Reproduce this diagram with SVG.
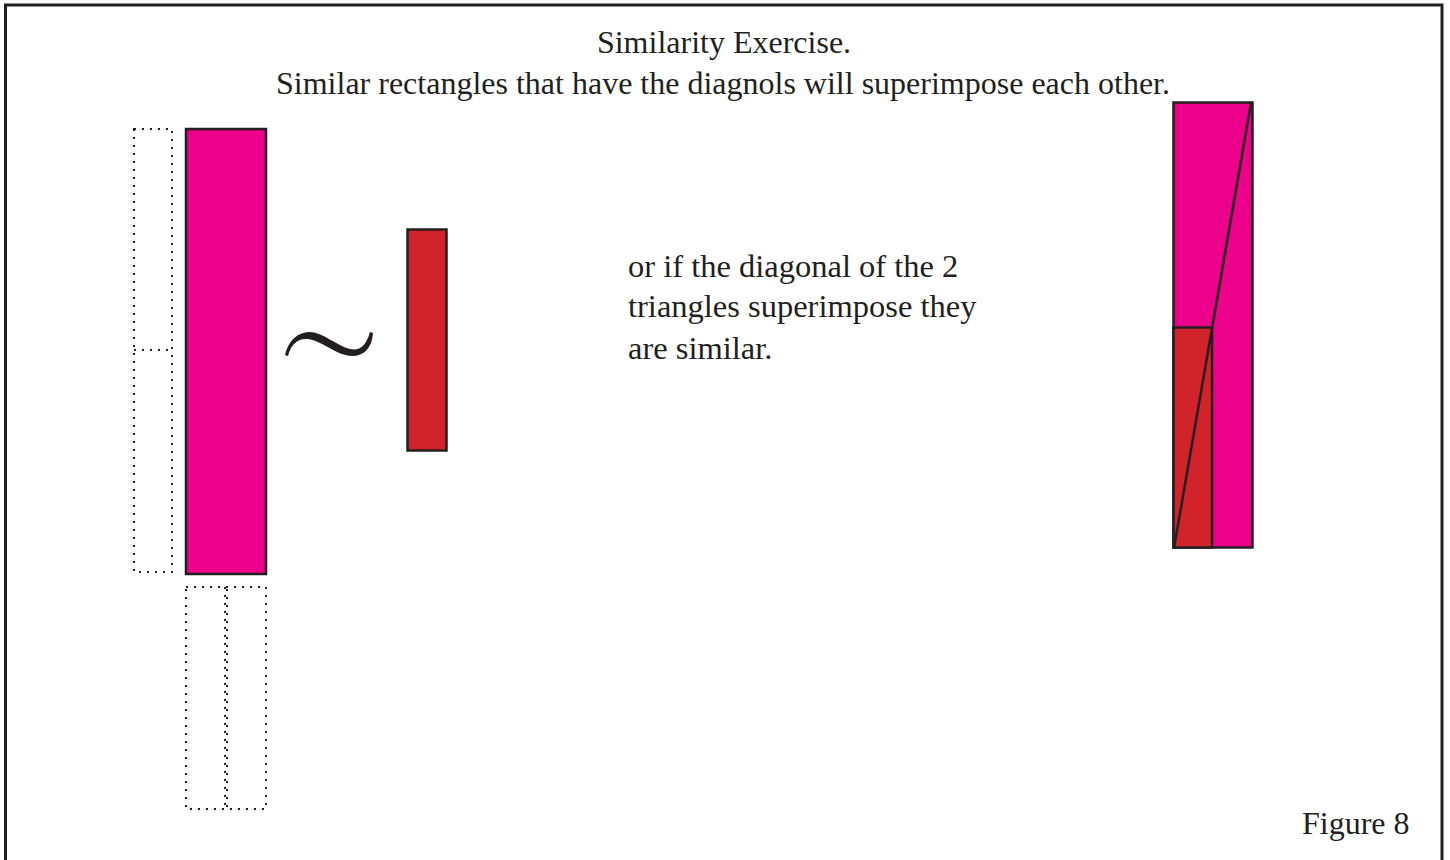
<svg xmlns="http://www.w3.org/2000/svg" width="1450" height="860" viewBox="0 0 1450 860">
<style>
.t{font-family:"Liberation Serif","Times New Roman",serif;fill:#231F20}
.pink{fill:#EC008C;stroke:#231F20;stroke-width:2.5}
.red{fill:#D2232A;stroke:#231F20;stroke-width:2.5}
.dot{fill:none;stroke:#231F20;stroke-width:2;stroke-dasharray:2 6}
.ln{stroke:#231F20;stroke-width:2.5;fill:none}
</style>
<rect width="1450" height="860" fill="#fff"/>
<rect x="5.5" y="5" width="1436.5" height="870" fill="none" stroke="#231F20" stroke-width="3"/>
<g id="title">
<text class="t" x="724" y="53" font-size="32" text-anchor="middle">Similarity Exercise.</text>
<text class="t" x="723" y="93.5" font-size="32" text-anchor="middle">Similar rectangles that have the diagnols will superimpose each other.</text>
</g>
<g id="dotted-left">
<rect class="dot" x="134" y="129" width="38" height="443"/>
<line class="dot" x1="134" y1="350" x2="172" y2="350"/>
</g>
<g id="big-pink">
<rect class="pink" x="186" y="129" width="80" height="445"/>
</g>
<g id="dotted-bottom">
<rect class="dot" x="186" y="587" width="80" height="222"/>
<line class="dot" x1="225" y1="587" x2="225" y2="809"/>
<line class="dot" x1="227" y1="589" x2="227" y2="809"/>
</g>
<g id="tilde">
<path d="M285,355 C288,341 298,332 309,332 C323,332 337,346 350,349 C360,351 366,346 370,332 L373,333 C372,348 364,356 352,356 C338,356 322,341 308,339 C298,338 291,344 288,356 Z" fill="#231F20"/>
</g>
<g id="small-red">
<rect class="red" x="407.5" y="229.5" width="39" height="221"/>
</g>
<g id="text-note">
<text class="t" x="628" y="277" font-size="32.5">or if the diagonal of the 2</text>
<text class="t" x="628" y="316.5" font-size="32.5">triangles superimpose they</text>
<text class="t" x="628" y="359" font-size="32.5">are similar.</text>
</g>
<g id="superimposed">
<rect class="pink" x="1173.5" y="102.5" width="79" height="445"/>
<rect class="red" x="1173.5" y="327.5" width="38.5" height="220"/>
</g>
<g id="connectors">
<line class="ln" x1="1174" y1="548" x2="1251" y2="103"/>
</g>
<g id="caption">
<text class="t" x="1302" y="834" font-size="32">Figure 8</text>
</g>
</svg>
